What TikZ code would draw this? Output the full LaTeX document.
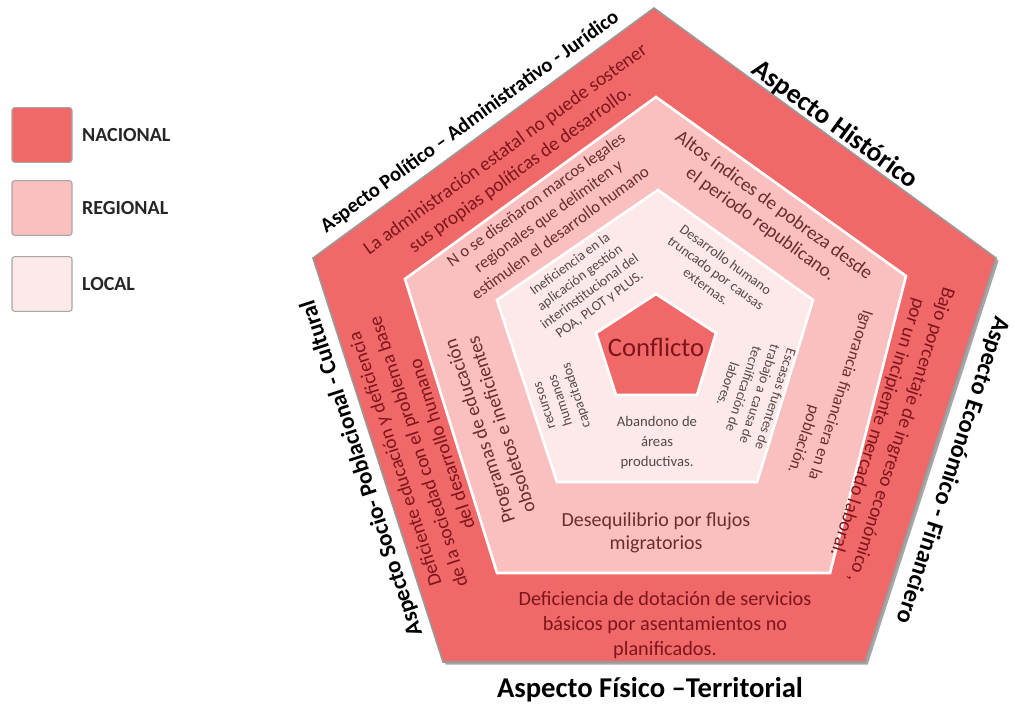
\documentclass[tikz,border=0pt]{standalone}
\usepackage{fontspec}
\setmainfont{Carlito}
\usetikzlibrary{positioning}

\definecolor{nacional}{RGB}{240,104,104}
\definecolor{regional}{RGB}{250,192,192}
\definecolor{local}{RGB}{253,233,233}
\definecolor{nactexto}{RGB}{125,22,28}
\definecolor{regtexto}{RGB}{105,45,50}
\definecolor{loctexto}{RGB}{85,72,72}

\begin{document}
\begin{tikzpicture}[x=0.75pt,y=-0.75pt,
  caja/.style={draw=gray!70, thick, rounded corners=2pt, minimum width=45pt, minimum height=41pt, inner sep=0pt},
  etiqueta/.style={font=\fontsize{15}{17}\selectfont\bfseries, text=black!85, inner sep=0pt},
  aspecto/.style={font=\bfseries, text=black, inner sep=0pt},
  nactxt/.style={align=center, inner sep=0pt, text=nactexto, font=\fontsize{14.5}{18.5}\selectfont},
  regtxt/.style={align=center, inner sep=0pt, text=regtexto, font=\fontsize{13.5}{16.5}\selectfont},
  loctxt/.style={align=center, inner sep=0pt, text=loctexto, font=\fontsize{10.5}{12.5}\selectfont}]

\useasboundingbox (0,0) rectangle (1015,714);

% leyenda
\node[caja, fill=nacional] (caja-nac) at (42,135) {};
\node[caja, fill=regional] (caja-reg) at (42,208) {};
\node[caja, fill=local] (caja-loc) at (42,284) {};
\node[etiqueta, right=7pt of caja-nac] (lbl-nac) {NACIONAL};
\node[etiqueta, right=7pt of caja-reg] (lbl-reg) {REGIONAL};
\node[etiqueta, right=7pt of caja-loc] (lbl-loc) {LOCAL};

% pentagonos
\fill[black!35, xshift=2pt, yshift=-2pt] (654,8) -- (996,258) -- (865,662) -- (443,662) -- (313,258) -- cycle;
\filldraw[fill=nacional, draw=gray!80, line width=1.2pt] (654,8) -- (996,258) -- (865,662) -- (443,662) -- (313,258) -- cycle;
\filldraw[fill=regional, draw=white, line width=2pt] (656,97) -- (906,276) -- (830,573) -- (497,573) -- (405,279) -- cycle;
\filldraw[fill=local, draw=white, line width=2pt] (658,190) -- (813,300) -- (757,482) -- (557,482) -- (497,300) -- cycle;
\filldraw[fill=nacional, draw=white, line width=2pt] (656,294) -- (716,333) -- (697,395) -- (616,395) -- (596,333) -- cycle;
\node[text=nactexto, font=\fontsize{20}{22}\selectfont] (conflicto) at (656,347) {Conflicto};

% aspectos
\node[aspecto, rotate=36, font=\fontsize{15.4}{17}\selectfont\bfseries] (politico) at (470,122) {Aspecto Político – Administrativo - Jurídico};
\node[aspecto, rotate=-36, font=\fontsize{20.5}{22}\selectfont\bfseries] (historico) at (835,125) {Aspecto Histórico};
\node[aspecto, rotate=-108, font=\fontsize{18.3}{20}\selectfont\bfseries] (economico) at (952,470) {Aspecto Económico - Financiero};
\node[aspecto, rotate=108, font=\fontsize{17.4}{19}\selectfont\bfseries] (social) at (362,468) {Aspecto Socio- Poblacional - Cultural};
\node[aspecto, font=\fontsize{21.5}{23}\selectfont\bfseries] (fisico) at (650,690) {Aspecto Físico –Territorial};

% nivel nacional
\node[nactxt, rotate=36] (nac-pol) at (513,160) {La administración estatal no puede sostener\\sus propias políticas de desarrollo.};
\node[nactxt, rotate=-108] (nac-eco) at (889,431) {Bajo porcentaje de ingreso económico ,\\por un incipiente mercado laboral.};
\node[nactxt, rotate=108] (nac-soc) at (418,452) {Deficiente educación y deficiencia\\de la sociedad con el problema base\\del desarrollo humano};
\node[nactxt, font=\fontsize{15.2}{19}\selectfont] (nac-fis) at (665,625) {Deficiencia de dotación de servicios\\básicos por asentamientos no\\planificados.};

% nivel regional
\node[regtxt, rotate=36, font=\fontsize{12.5}{15.5}\selectfont] (reg-pol) at (548,216) {N o se diseñaron marcos legales\\regionales  que delimiten y\\estimulen el desarrollo humano};
\node[regtxt, rotate=-36, font=\fontsize{14.3}{17}\selectfont] (reg-his) at (767,215) {Altos índices de pobreza  desde\\el periodo republicano.};
\node[regtxt, rotate=-108, align=right, font=\fontsize{12.5}{16}\selectfont] (reg-eco) at (830,392) {Ignorancia financiera en la\\población.};
\node[regtxt, rotate=108, font=\fontsize{14.5}{17}\selectfont] (reg-soc) at (490,428) {Programas de educación\\obsoletos e ineficientes};
\node[regtxt, font=\fontsize{15}{17}\selectfont] (reg-fis) at (656,533) {Desequilibrio por flujos\\migratorios};

% nivel local
\node[loctxt, rotate=36] (loc-pol) at (585,285) {Ineficiencia en la\\aplicación gestión\\interinstitucional del\\POA, PLOT y PLUS.};
\node[loctxt, rotate=-36] (loc-his) at (716,273) {Desarrollo  humano\\truncado por causas\\externas.};
\node[loctxt, rotate=-108] (loc-eco) at (752,392) {Escasas fuentes de\\trabajo a causa de\\tecnificación de\\labores.};
\node[loctxt, rotate=108] (loc-soc) at (562,400) {recursos\\humanos\\capacitados};
\node[loctxt, font=\fontsize{11}{15}\selectfont] (loc-fis) at (657,443) {Abandono de\\áreas\\productivas.};

\end{tikzpicture}
\end{document}
